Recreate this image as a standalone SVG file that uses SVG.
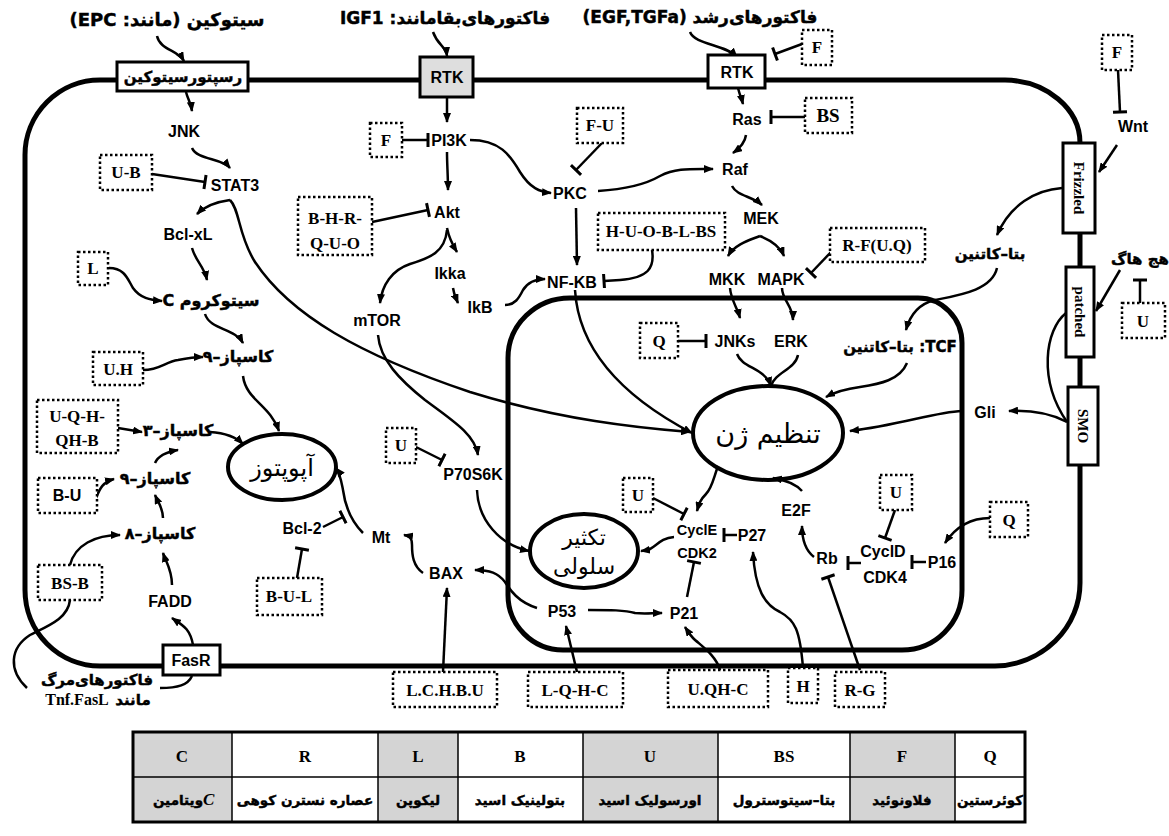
<svg xmlns="http://www.w3.org/2000/svg" width="1169" height="836" viewBox="0 0 1169 836">
<defs>
<marker id="ar" viewBox="0 0 10 8" refX="9" refY="4" markerWidth="10" markerHeight="8" orient="auto" markerUnits="userSpaceOnUse"><path d="M0,0 L10,4 L0,8 Z" fill="#000"/></marker>
<marker id="tb" viewBox="-2 -8 4 16" refX="0" refY="0" markerWidth="4" markerHeight="16" orient="auto" markerUnits="userSpaceOnUse"><path d="M0,-7 V7" stroke="#000" stroke-width="3"/></marker>
<style>
.n{font-family:"Liberation Sans",Arial,sans-serif;font-weight:bold;font-size:16px;text-anchor:middle;fill:#000}
.s{font-family:"Liberation Serif","Times New Roman",serif;font-weight:bold;font-size:17px;text-anchor:middle;fill:#000}
.fa{font-family:"DejaVu Sans","Noto Sans",sans-serif;font-weight:bold;font-size:15px;text-anchor:middle;fill:#000;stroke:#000;stroke-width:0.45}
.ft{font-size:13.5px}
.fe{font-family:"DejaVu Sans","Noto Sans",sans-serif;font-size:24px;text-anchor:middle;fill:#000}
.dot{fill:#fff;stroke:#000;stroke-width:2.5;stroke-dasharray:2.5 2.5}
.box{fill:#fff;stroke:#000;stroke-width:3}
.mem{fill:none;stroke:#000;stroke-width:5}
.c{fill:none;stroke:#000;stroke-width:2.5}
.a{marker-end:url(#ar)}
.i{marker-end:url(#tb)}
.ell{fill:#fff;stroke:#000;stroke-width:4}
.g{fill:#d4d4d4}
.tl{stroke:#000;stroke-width:1.5}
</style>
</defs>
<rect width="1169" height="836" fill="#fff"/>

<g id="membranes">
<path class="mem" d="M163,666 L100,666 A75,76 0 0 1 25,590 L25,155 A75,75 0 0 1 100,80 L1005,80 A77,63 0 0 1 1080,143 L1080,583 A87,83 0 0 1 995,666 L220,666"/>
<path class="mem" d="M570,298 L918,298 A44,45 0 0 1 962,343 L962,590 A60,60 0 0 1 902,650 L563,650 A55,55 0 0 1 508,595 L508,358 A62,60 0 0 1 570,298 Z"/>
</g>

<g id="ellipses">
<g id="apoptosis"><ellipse class="ell" cx="282" cy="467" rx="54" ry="33"/><text class="fe" x="282" y="476" direction="rtl">آپوپتوز</text></g>
<g id="gene-regulation"><ellipse class="ell" cx="768" cy="433" rx="75" ry="47"/><text class="fe" x="768" y="443" style="font-size:27px" direction="rtl">تنظیم ژن</text></g>
<g id="proliferation"><ellipse class="ell" cx="584" cy="551" rx="54" ry="37"/><text class="fe" x="584" y="545" style="font-size:22px" direction="rtl">تکثیر</text><text class="fe" x="584" y="574" style="font-size:22px" direction="rtl">سلولی</text></g>
</g>

<g id="connectors">
<path class="c a" d="M157,36 C160,50 178,50 184,61"/>
<path class="c a" d="M186,92 C188,100 191,103 192,111"/>
<path class="c a" d="M192,148 C197,160 222,158 230,168"/>
<path class="c i" d="M152,174 L205,182"/>
<path class="c a" d="M230,200 C215,202 205,206 197,214"/>
<path class="c a" d="M230,200 C240,210 238,235 255,262 C290,315 360,355 470,392 C560,420 640,428 690,432"/>
<path class="c a" d="M192,248 C196,262 204,266 207,280"/>
<path class="c a" d="M109,268 C125,268 128,280 133,288 C140,298 150,300 162,301"/>
<path class="c a" d="M205,314 C210,330 235,328 243,343"/>
<path class="c a" d="M143,370 C160,370 165,362 178,360 C188,358 195,357 203,357"/>
<path class="c a" d="M243,376 C246,400 270,405 279,431"/>
<path class="c a" d="M118,428 L142,432"/>
<path class="c a" d="M210,432 C225,433 235,436 243,444"/>
<path class="c a" d="M155,463 C158,456 166,452 178,450"/>
<path class="c a" d="M96,498 C100,488 103,482 114,479"/>
<path class="c a" d="M163,518 C163,508 158,502 155,495"/>
<path class="c a" d="M172,585 C172,570 166,562 163,553"/>
<path class="c a" d="M193,645 C190,628 182,625 172,618"/>
<path class="c a" d="M70,565 C75,545 95,535 120,535"/>
<path class="c" d="M70,600 C68,618 50,625 30,635 C10,648 8,670 27,688"/>
<path class="c" d="M160,688 C178,688 188,685 192,676"/>
<path class="c a" d="M433,32 C438,46 446,46 447,56"/>
<path class="c a" d="M447,98 L447,122"/>
<path class="c i" d="M402,140 L428,140"/>
<path class="c a" d="M447,152 C447,165 448,175 448,190"/>
<path class="c i" d="M372,222 L428,210"/>
<path class="c a" d="M470,140 C500,140 510,155 520,172 C530,188 540,192 551,193"/>
<path class="c i" d="M602,143 L576,170"/>
<path class="c a" d="M598,191 C630,189 648,183 660,176 C675,168 690,169 713,169"/>
<path class="c a" d="M576,208 L577,265"/>
<path class="c i" d="M652,250 C655,268 648,278 620,280 L604,281"/>
<path class="c a" d="M447,228 C449,238 452,244 457,252"/>
<path class="c a" d="M447,230 C445,252 430,258 410,264 C392,270 382,285 380,303"/>
<path class="c a" d="M453,288 C454,295 456,298 458,303"/>
<path class="c a" d="M505,305 C515,305 519,298 523,290 C528,282 535,279 545,279"/>
<path class="c a" d="M378,335 C380,360 400,380 425,400 C455,422 475,435 478,455"/>
<path class="c i" d="M416,447 L442,460"/>
<path class="c a" d="M477,490 C478,520 500,545 529,551"/>
<path class="c a" d="M363,533 C350,520 345,505 343,490 C341,480 340,473 336,468"/>
<path class="c i" d="M323,527 L343,517"/>
<path class="c i" d="M297,578 L302,549"/>
<path class="c a" d="M423,573 C413,566 412,555 412,545 C412,538 410,536 404,535"/>
<path class="c a" d="M443,672 L447,588"/>
<path class="c a" d="M537,608 C518,602 510,590 505,582 C498,573 490,570 475,570"/>
<path class="c a" d="M588,610 C610,610 625,610 635,613 C645,614 652,613 662,613"/>
<path class="c a" d="M577,672 L566,626"/>
<path class="c a" d="M720,670 C716,655 700,645 693,638 C689,634 687,630 685,627"/>
<path class="c i" d="M687,597 L694,562"/>
<path class="c i" d="M737,535 L724,535"/>
<path class="c i" d="M653,498 L684,514"/>
<path class="c a" d="M674,537 C660,538 656,547 648,550 L641,551"/>
<path class="c a" d="M718,466 C713,480 712,488 706,494 C700,500 699,504 697,511"/>
<path class="c a" d="M803,668 C800,630 795,620 780,612 C765,605 755,590 753,552"/>
<path class="c i" d="M860,670 L828,577"/>
<path class="c a" d="M814,557 C805,550 802,540 802,526"/>
<path class="c a" d="M802,491 C795,483 785,480 773,478"/>
<path class="c i" d="M861,563 L848,563"/>
<path class="c i" d="M926,562 L912,562"/>
<path class="c i" d="M895,510 L885,538"/>
<path class="c a" d="M990,518 C970,518 955,528 945,543"/>
<path class="c a" d="M690,32 C695,45 725,44 737,57"/>
<path class="c i" d="M802,44 L775,54"/>
<path class="c a" d="M738,88 C740,96 742,100 743,104"/>
<path class="c i" d="M805,117 L771,117"/>
<path class="c a" d="M746,135 C745,143 740,148 733,153"/>
<path class="c a" d="M732,186 C737,196 752,196 762,205"/>
<path class="c a" d="M760,236 C750,240 735,244 728,256"/>
<path class="c a" d="M760,236 C770,240 780,246 784,256"/>
<path class="c i" d="M832,251 L811,273"/>
<path class="c a" d="M730,288 C731,300 737,307 740,318"/>
<path class="c a" d="M782,288 C782,300 793,306 793,320"/>
<path class="c i" d="M678,341 L706,341"/>
<path class="c a" d="M737,354 C742,368 765,368 771,386"/>
<path class="c" d="M798,355 C795,370 775,372 771,386"/>
<path class="c a" d="M575,290 C578,340 610,390 692,433"/>
<path class="c a" d="M1062,188 C1035,190 1010,205 997,235"/>
<path class="c a" d="M997,268 C992,290 960,295 935,300 C918,304 910,315 906,330"/>
<path class="c a" d="M907,363 C900,380 880,384 860,387 C845,389 835,392 826,397"/>
<path class="c a" d="M962,411 C935,412 900,425 850,431"/>
<path class="c a" d="M1067,422 C1050,413 1030,410 1009,411"/>
<path class="c" d="M1066,313 C1045,330 1038,380 1067,422"/>
<path class="c a" d="M1120,270 L1096,311"/>
<path class="c i" d="M1140,303 L1140,280"/>
<path class="c i" d="M1118,70 L1120,112"/>
<path class="c a" d="M1117,145 L1099,172"/>
</g>

<g id="receptors">
<g id="cytokine-receptor"><rect class="box" x="117" y="62" width="131" height="29"/><text class="fa" x="183" y="82" direction="rtl">رسپتورسیتوکین</text></g>
<g id="rtk1"><rect class="box" x="420" y="57" width="53" height="40" style="fill:#dedede"/><text class="n" x="447" y="83">RTK</text></g>
<g id="rtk2"><rect class="box" x="708" y="55" width="57" height="33"/><text class="n" x="737" y="78">RTK</text></g>
<g id="frizzled"><rect class="box" x="1063" y="143" width="32" height="90"/><text class="s" style="font-size:15px" transform="translate(1074,188) rotate(90)">Frizzled</text></g>
<g id="patched"><rect class="box" x="1066" y="267" width="28" height="90"/><text class="s" style="font-size:15px" transform="translate(1075,312) rotate(90)">patched</text></g>
<g id="smo"><rect class="box" x="1068" y="387" width="30" height="78"/><text class="s" style="font-size:15px" transform="translate(1078,426) rotate(90)">SMO</text></g>
<g id="fasr"><rect class="box" x="163" y="645" width="57" height="30"/><text class="n" x="191" y="666">FasR</text></g>
</g>

<g id="labels">
<g id="cytokine"><text class="fa" style="font-size:18px" x="167" y="26" direction="rtl">سیتوکین (مانند: EPC)</text></g>
<g id="survival-factors"><text class="fa" style="font-size:17px" x="445" y="24" direction="rtl">فاکتورهای‌بقامانند: IGF1</text></g>
<g id="growth-factors"><text class="fa" style="font-size:17px" x="700" y="23" direction="rtl">فاکتورهای‌رشد (EGF,TGFa)</text></g>
<g id="death-factors"><text class="fa" x="97" y="685" direction="rtl">فاکتورهای‌مرگ</text><text class="s" style="font-size:16px" x="77" y="705">Tnf.FasL</text><text class="fa" x="133" y="705" direction="rtl">مانند</text></g>
<g id="hedgehog"><text class="fa" x="1140" y="264" direction="rtl">هج هاگ</text></g>
</g>

<g id="nodes">
<g id="JNK"><text class="n" x="184" y="137">JNK</text></g>
<g id="STAT3"><text class="n" x="235" y="191">STAT3</text></g>
<g id="Bcl-xL"><text class="n" x="188" y="240">Bcl-xL</text></g>
<g id="cytochrome-c"><text class="fa" style="font-size:16px" x="211" y="306" direction="rtl">سیتوکروم C</text></g>
<g id="casp9a"><text class="fa" style="font-size:16px" x="238" y="362" direction="rtl">کاسپاز–۹</text></g>
<g id="casp3"><text class="fa" style="font-size:16px" x="178" y="436" direction="rtl">کاسپاز–۳</text></g>
<g id="casp9b"><text class="fa" style="font-size:16px" x="155" y="484" direction="rtl">کاسپاز–۹</text></g>
<g id="casp8"><text class="fa" style="font-size:16px" x="160" y="539" direction="rtl">کاسپاز–۸</text></g>
<g id="FADD"><text class="n" x="170" y="607">FADD</text></g>
<g id="PI3K"><text class="n" x="449" y="146">PI3K</text></g>
<g id="Akt"><text class="n" x="447" y="218">Akt</text></g>
<g id="PKC"><text class="n" x="570" y="199">PKC</text></g>
<g id="Ras"><text class="n" x="747" y="125">Ras</text></g>
<g id="Raf"><text class="n" x="735" y="175">Raf</text></g>
<g id="MEK"><text class="n" x="761" y="224">MEK</text></g>
<g id="MKK"><text class="n" x="727" y="285">MKK</text></g>
<g id="MAPK"><text class="n" x="781" y="285">MAPK</text></g>
<g id="NF-KB"><text class="n" x="572" y="288">NF-KB</text></g>
<g id="Ikka"><text class="n" x="450" y="279">Ikka</text></g>
<g id="IkB"><text class="n" x="480" y="313">IkB</text></g>
<g id="mTOR"><text class="n" x="377" y="326">mTOR</text></g>
<g id="JNKs"><text class="n" x="735" y="347">JNKs</text></g>
<g id="ERK"><text class="n" x="791" y="347">ERK</text></g>
<g id="Wnt"><text class="n" x="1133" y="132">Wnt</text></g>
<g id="beta-catenin"><text class="fa" x="990" y="259" direction="rtl">بتا–کاتنین</text></g>
<g id="TCF"><text class="fa" x="900" y="352" direction="rtl">TCF: بتا–کاتنین</text></g>
<g id="Gli"><text class="n" x="985" y="418">Gli</text></g>
<g id="P70S6K"><text class="n" x="473" y="480">P70S6K</text></g>
<g id="Mt"><text class="n" x="381" y="543">Mt</text></g>
<g id="Bcl-2"><text class="n" x="302" y="534">Bcl-2</text></g>
<g id="BAX"><text class="n" x="446" y="579">BAX</text></g>
<g id="P53"><text class="n" x="562" y="617">P53</text></g>
<g id="P21"><text class="n" x="684" y="619">P21</text></g>
<g id="CyclE-CDK2"><text class="n" style="font-size:14.5px" x="697" y="535">CyclE</text><text class="n" style="font-size:14.5px" x="697" y="558">CDK2</text></g>
<g id="P27"><text class="n" x="752" y="541">P27</text></g>
<g id="E2F"><text class="n" x="796" y="516">E2F</text></g>
<g id="Rb"><text class="n" x="827" y="564">Rb</text></g>
<g id="CyclD-CDK4"><text class="n" x="883" y="557">CyclD</text><text class="n" x="885" y="583">CDK4</text></g>
<g id="P16"><text class="n" x="942" y="568">P16</text></g>
</g>

<g id="inhibitors">
<g id="ib-UB"><rect class="dot" x="100" y="155" width="52" height="35"/><text class="s" x="126" y="178">U-B</text></g>
<g id="ib-F1"><rect class="dot" x="370" y="123" width="32" height="34"/><text class="s" x="386" y="146">F</text></g>
<g id="ib-BHR"><rect class="dot" x="298" y="197" width="74" height="58"/><text class="s" x="335" y="224">B-H-R-</text><text class="s" x="335" y="249">Q-U-O</text></g>
<g id="ib-FU"><rect class="dot" x="577" y="108" width="46" height="35"/><text class="s" x="600" y="131">F-U</text></g>
<g id="ib-HUOBLBS"><rect class="dot" x="598" y="213" width="127" height="37"/><text class="s" x="661" y="237">H-U-O-B-L-BS</text></g>
<g id="ib-F2"><rect class="dot" x="802" y="30" width="30" height="35"/><text class="s" x="817" y="53">F</text></g>
<g id="ib-BS"><rect class="dot" x="805" y="98" width="47" height="35"/><text class="s" x="828" y="122" style="font-size:19px">BS</text></g>
<g id="ib-RF"><rect class="dot" x="830" y="228" width="95" height="34"/><text class="s" x="877" y="251">R-F(U.Q)</text></g>
<g id="ib-F3"><rect class="dot" x="1102" y="35" width="30" height="35"/><text class="s" x="1117" y="58">F</text></g>
<g id="ib-U1"><rect class="dot" x="1122" y="303" width="43" height="35"/><text class="s" x="1143" y="327">U</text></g>
<g id="ib-L"><rect class="dot" x="78" y="252" width="30" height="33"/><text class="s" x="93" y="274">L</text></g>
<g id="ib-UH"><rect class="dot" x="93" y="352" width="50" height="33"/><text class="s" x="118" y="375">U.H</text></g>
<g id="ib-UQH"><rect class="dot" x="37" y="400" width="81" height="53"/><text class="s" x="77" y="422">U-Q-H-</text><text class="s" x="77" y="446">QH-B</text></g>
<g id="ib-BU"><rect class="dot" x="38" y="478" width="59" height="35"/><text class="n" x="67" y="501">B-U</text></g>
<g id="ib-BSB"><rect class="dot" x="38" y="565" width="64" height="35"/><text class="s" x="70" y="589">BS-B</text></g>
<g id="ib-BUL"><rect class="dot" x="257" y="578" width="65" height="37"/><text class="s" x="289" y="602">B-U-L</text></g>
<g id="ib-U2"><rect class="dot" x="386" y="428" width="30" height="35"/><text class="s" x="401" y="451">U</text></g>
<g id="ib-Q1"><rect class="dot" x="640" y="323" width="38" height="35"/><text class="s" x="659" y="347">Q</text></g>
<g id="ib-U3"><rect class="dot" x="623" y="478" width="30" height="34"/><text class="s" x="638" y="501">U</text></g>
<g id="ib-U4"><rect class="dot" x="880" y="475" width="32" height="35"/><text class="s" x="896" y="498">U</text></g>
<g id="ib-Q2"><rect class="dot" x="990" y="502" width="38" height="35"/><text class="s" x="1009" y="526">Q</text></g>
<g id="ib-LCHBU"><rect class="dot" x="393" y="672" width="104" height="35"/><text class="s" x="445" y="696">L.C.H.B.U</text></g>
<g id="ib-LQHC"><rect class="dot" x="528" y="672" width="95" height="35"/><text class="s" x="575" y="696">L-Q-H-C</text></g>
<g id="ib-UQHC"><rect class="dot" x="668" y="670" width="100" height="37"/><text class="s" x="718" y="695">U.QH-C</text></g>
<g id="ib-H"><rect class="dot" x="788" y="668" width="30" height="35"/><text class="s" x="803" y="692">H</text></g>
<g id="ib-RG"><rect class="dot" x="835" y="672" width="50" height="35"/><text class="s" x="860" y="696">R-G</text></g>
</g>

<g id="table">
<rect class="g" x="133" y="732" width="99" height="90"/>
<rect class="g" x="378" y="732" width="80" height="90"/>
<rect class="g" x="583" y="732" width="135" height="90"/>
<rect class="g" x="850" y="732" width="105" height="90"/>
<line class="tl" x1="133" y1="777" x2="1025" y2="777"/>
<line class="tl" x1="232" y1="732" x2="232" y2="822"/>
<line class="tl" x1="378" y1="732" x2="378" y2="822"/>
<line class="tl" x1="458" y1="732" x2="458" y2="822"/>
<line class="tl" x1="583" y1="732" x2="583" y2="822"/>
<line class="tl" x1="718" y1="732" x2="718" y2="822"/>
<line class="tl" x1="850" y1="732" x2="850" y2="822"/>
<line class="tl" x1="955" y1="732" x2="955" y2="822"/>
<rect x="133" y="732" width="892" height="90" fill="none" stroke="#000" stroke-width="3"/>
<text class="s" x="182" y="762">C</text>
<text class="s" x="305" y="762">R</text>
<text class="s" x="418" y="762">L</text>
<text class="s" x="520" y="762">B</text>
<text class="s" x="650" y="762">U</text>
<text class="s" x="784" y="762">BS</text>
<text class="s" x="902" y="762">F</text>
<text class="s" x="990" y="762">Q</text>
<text class="fa ft" x="178" y="805" direction="rtl">ویتامین</text>
<text class="s" x="203" y="805" style="font-style:italic;text-anchor:start">C</text>
<text class="fa ft" x="305" y="805" direction="rtl">عصاره نسترن کوهی</text>
<text class="fa ft" x="418" y="805" direction="rtl">لیکوپن</text>
<text class="fa ft" x="520" y="805" direction="rtl">بتولینیک اسید</text>
<text class="fa ft" x="650" y="805" direction="rtl">اورسولیک اسید</text>
<text class="fa ft" x="784" y="805" direction="rtl">بتا–سیتوسترول</text>
<text class="fa ft" x="902" y="805" direction="rtl">فلاونوئید</text>
<text class="fa ft" x="990" y="805" direction="rtl">کوئرستین</text>
</g>
</svg>
